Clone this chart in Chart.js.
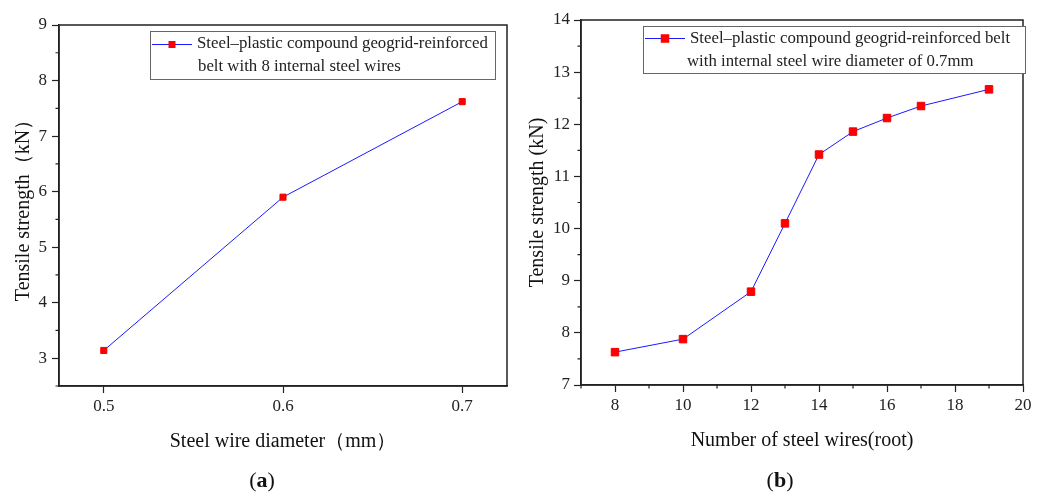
<!DOCTYPE html>
<html>
<head>
<meta charset="utf-8">
<script src="https://cdn.jsdelivr.net/npm/chart.js@4.4.0/dist/chart.umd.min.js"></script>
<style>
  body { margin: 0; background: #fff; }
  #wrap { position: relative; width: 1054px; height: 496px; overflow: hidden; }
  canvas { position: absolute; top: 0; }
  .cap { position: absolute; top: 467px; font-family: "Liberation Serif", serif; font-size: 22px; line-height: 25px; color: #111; transform: translateX(-50%); white-space: nowrap; }
</style>
</head>
<body>
<div id="wrap">
  <canvas id="chartA" width="520" height="496" style="left:0"></canvas>
  <canvas id="chartB" width="534" height="496" style="left:520px"></canvas>
  <div class="cap" style="left:262px">(<b>a</b>)</div>
  <div class="cap" style="left:780px">(<b>b</b>)</div>
</div>
<script>
// (a) resistencia vs diametro del alambre
const diamA = [0.5, 0.6, 0.7];
const strengthA = [3.14, 5.90, 7.62];
// (b) resistencia vs numero de alambres
const wiresB = [8, 10, 12, 13, 14, 15, 16, 17, 19];
const strengthB = [7.63, 7.88, 8.79, 10.10, 11.42, 11.86, 12.12, 12.35, 12.67];

// ticks
const xTicksA = [0.5, 0.6, 0.7];
const yTicksA = [3, 4, 5, 6, 7, 8, 9];
const yMinorA = [2.5, 3.5, 4.5, 5.5, 6.5, 7.5, 8.5];
const xTicksB = [8, 10, 12, 14, 16, 18, 20];
const xMinorB = [7, 9, 11, 13, 15, 17, 19];
const yTicksB = [7, 8, 9, 10, 11, 12, 13, 14];
const yMinorB = [7.5, 8.5, 9.5, 10.5, 11.5, 12.5, 13.5];

const legendA = ['Steel\u2013plastic compound geogrid-reinforced', 'belt with 8 internal steel wires'];
const legendB = ['Steel\u2013plastic compound geogrid-reinforced belt', 'with internal steel wire diameter of 0.7mm'];

const FONT = '"Liberation Serif", "Times New Roman", serif';
const INK = '#222';

// marco completo + ticks menores + leyenda propia
const framePlugin = {
  id: 'frame',
  afterDraw(chart, args, opts) {
    const ctx = chart.ctx;
    const ca = chart.chartArea;
    ctx.save();
    ctx.strokeStyle = INK;
    ctx.lineWidth = 1.5;
    ctx.strokeRect(ca.left, ca.top, ca.right - ca.left, ca.bottom - ca.top);

    // ticks menores
    ctx.lineWidth = 1.2;
    ctx.beginPath();
    (opts.minorX || []).forEach(v => {
      const px = chart.scales.x.getPixelForValue(v);
      ctx.moveTo(px, ca.bottom);
      ctx.lineTo(px, ca.bottom + 3.5);
    });
    (opts.minorY || []).forEach(v => {
      const py = chart.scales.y.getPixelForValue(v);
      ctx.moveTo(ca.left, py);
      ctx.lineTo(ca.left - 3.5, py);
    });
    ctx.stroke();

    // leyenda
    const lg = opts.legend;
    if (lg) {
      const ds = chart.data.datasets[0];
      ctx.fillStyle = '#fff';
      ctx.fillRect(lg.x, lg.y, lg.w, lg.h);
      ctx.strokeStyle = '#666';
      ctx.lineWidth = 1;
      ctx.strokeRect(lg.x + 0.5, lg.y + 0.5, lg.w, lg.h);
      ctx.strokeStyle = ds.borderColor;
      ctx.lineWidth = 1;
      ctx.beginPath();
      ctx.moveTo(lg.x + 2, lg.sy);
      ctx.lineTo(lg.x + 2 + lg.sw, lg.sy);
      ctx.stroke();
      ctx.fillStyle = ds.pointBackgroundColor;
      const m = lg.ms;
      ctx.fillRect(lg.x + 2 + lg.sw / 2 - m / 2, lg.sy - m / 2, m, m);
      ctx.fillStyle = INK;
      ctx.font = lg.size + 'px ' + FONT;
      ctx.textBaseline = 'middle';
      ctx.textAlign = 'left';
      lg.text.forEach((t, i) => {
        ctx.fillText(t, lg.tx[i], lg.ty[i]);
      });
    }
    ctx.restore();
  }
};

function makeChart(id, xs, ys, cfg) {
  return new Chart(document.getElementById(id), {
    type: 'line',
    data: {
      datasets: [{
        label: cfg.legend.text.join(' '),
        data: xs.map((x, i) => ({ x: x, y: ys[i] })),
        borderColor: '#1a1aff',
        borderWidth: 1,
        pointStyle: 'rect',
        pointRadius: cfg.pr,
        pointBackgroundColor: '#ff0000',
        pointBorderColor: '#ee0000',
        pointBorderWidth: 1,
        tension: 0,
        fill: false
      }]
    },
    options: {
      responsive: false,
      animation: false,
      devicePixelRatio: 1,
      layout: { padding: cfg.pad },
      plugins: {
        legend: { display: false },
        tooltip: { enabled: false },
        frame: { legend: cfg.legend, minorX: cfg.minorX, minorY: cfg.minorY }
      },
      scales: {
        x: {
          type: 'linear',
          min: cfg.xmin,
          max: cfg.xmax,
          afterBuildTicks: s => { s.ticks = cfg.xticks.map(v => ({ value: v })); },
          afterFit: s => { s.height = 80; },
          ticks: {
            font: { family: FONT, size: 17 },
            color: INK,
            padding: 3,
            maxRotation: 0,
            callback: cfg.xfmt
          },
          grid: { drawOnChartArea: false, tickLength: 7, color: INK, tickWidth: 1.2 },
          border: { color: INK, width: 1.5 },
          title: {
            display: true,
            text: cfg.xtitle,
            font: { family: FONT, size: 20 },
            color: '#111',
            padding: { top: 0, bottom: 12 }
          }
        },
        y: {
          type: 'linear',
          min: cfg.ymin,
          max: cfg.ymax,
          afterBuildTicks: s => { s.ticks = cfg.yticks.map(v => ({ value: v })); },
          afterFit: s => { s.width = cfg.yw; },
          ticks: {
            font: { family: FONT, size: 17 },
            color: INK,
            padding: cfg.ypad
          },
          grid: { drawOnChartArea: false, tickLength: 7, color: INK, tickWidth: 1.2 },
          border: { color: INK, width: 1.5 },
          title: {
            display: true,
            text: cfg.ytitle,
            font: { family: FONT, size: 20 },
            color: '#111',
            padding: { top: cfg.ytp, bottom: 0 }
          }
        }
      }
    },
    plugins: [framePlugin]
  });
}

// grafica (a)
let graficaA = makeChart('chartA', diamA, strengthA, {
  pad: { left: 0, right: 13, top: 25, bottom: 30 },
  xmin: 0.475, xmax: 0.725, ymin: 2.5, ymax: 9,
  xticks: xTicksA, yticks: yTicksA,
  minorX: [], minorY: yMinorA,
  xfmt: v => v.toFixed(1),
  yw: 59, ypad: 5, ytp: 12, pr: 4.3,
  xtitle: 'Steel wire diameter\uff08mm\uff09',
  ytitle: 'Tensile strength\uff08kN\uff09',
  legend: { x: 150, y: 31, w: 345, h: 48, sy: 44.5, sw: 40, ms: 7, size: 16.8,
            text: legendA, tx: [197, 198], ty: [44, 67] }
});

// grafica (b)
let graficaB = makeChart('chartB', wiresB, strengthB, {
  pad: { left: 0, right: 31, top: 20, bottom: 31 },
  xmin: 7, xmax: 20, ymin: 7, ymax: 14,
  xticks: xTicksB, yticks: yTicksB,
  minorX: xMinorB, minorY: yMinorB,
  xfmt: v => String(v),
  yw: 61, ypad: 4, ytp: 6, pr: 5.3,
  xtitle: 'Number of steel wires(root)',
  ytitle: 'Tensile strength (kN)',
  legend: { x: 123, y: 26, w: 382, h: 47, sy: 38.5, sw: 40, ms: 8.5, size: 16.8,
            text: legendB, tx: [170, 167], ty: [39, 62] }
});
</script>
</body>
</html>
